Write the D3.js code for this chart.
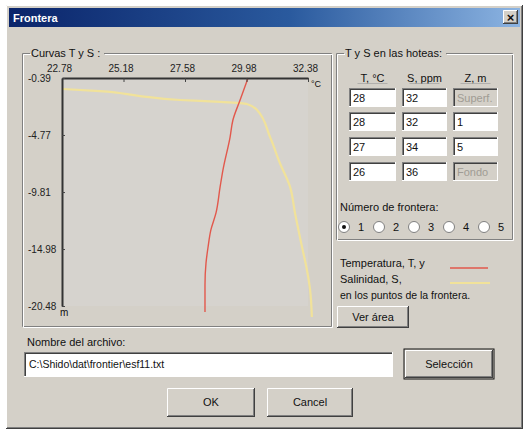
<!DOCTYPE html>
<html><head><meta charset="utf-8">
<script src="https://cdn.jsdelivr.net/npm/d3@7"></script>
<style>
body{margin:0;background:#fff}
svg{display:block;font-family:"Liberation Sans",Arial,sans-serif;font-size:11px}
</style>
</head><body>
<svg id="c" width="525" height="430"></svg>
<script>
// ---- data ----
const xTickValues = [22.78, 25.18, 27.58, 29.98, 32.38];
const xTickLabels = ["22.78", "25.18", "27.58", "29.98", "32.38"];
const yTickDepths = [0.39, 5.41, 10.44, 15.46, 20.48];
const yTickLabels = ["-0.39", "-4.77", "-9.81", "-14.98", "-20.48"];
const tempDepth  = [0.39, 2.33, 4.09, 5.59, 8.50, 9.99, 12.28, 13.78, 15.28, 16.69, 18.63, 21.01];
const tempValues = [30.04, 29.73, 29.45, 29.34, 29.06, 28.95, 28.79, 28.59, 28.48, 28.40, 28.36, 28.36];
const salDepth  = [1.36, 1.54, 1.98, 2.33, 2.50, 2.68, 3.21, 5.59, 7.88, 9.99, 12.28, 15.28, 17.31, 19.07, 21.45];
const salValues = [30.03, 31.08, 32.22, 33.36, 34.50, 35.26, 35.55, 35.92, 36.20, 36.49, 36.63, 36.83, 36.97, 37.06, 37.11];
const tableHeaders = ["T, °C", "S, ppm", "Z, m"];
const tableT = ["28", "28", "27", "26"];
const tableS = ["32", "32", "34", "36"];
const tableZ = ["Superf.", "1", "5", "Fondo"];
const radioLabels = ["1", "2", "3", "4", "5"];

const G = "#d4d0c8", DK = "#404040", MD = "#808080", WH = "#ffffff";
const svg = d3.select("#c");

// ---- helpers ----
function raised(g, x, y, w, h) {
  g.append("rect").attr("x", x).attr("y", y).attr("width", w).attr("height", h).attr("fill", G);
  const l = (x1, y1, x2, y2, c) => g.append("line").attr("x1", x1).attr("y1", y1).attr("x2", x2).attr("y2", y2).attr("stroke", c).attr("stroke-width", 1);
  l(x + .5, y + .5, x + w - .5, y + .5, WH); l(x + .5, y + .5, x + .5, y + h - .5, WH);
  l(x, y + h - .5, x + w, y + h - .5, DK); l(x + w - .5, y, x + w - .5, y + h, DK);
  l(x + 1, y + h - 1.5, x + w - 1, y + h - 1.5, MD); l(x + w - 1.5, y + 1, x + w - 1.5, y + h - 1, MD);
}
function sunken(g, x, y, w, h, fill) {
  g.append("rect").attr("x", x).attr("y", y).attr("width", w).attr("height", h).attr("fill", fill);
  const l = (x1, y1, x2, y2, c) => g.append("line").attr("x1", x1).attr("y1", y1).attr("x2", x2).attr("y2", y2).attr("stroke", c).attr("stroke-width", 1);
  l(x, y + .5, x + w, y + .5, MD); l(x + .5, y, x + .5, y + h, MD);
  l(x + 1, y + 1.5, x + w - 1, y + 1.5, DK); l(x + 1.5, y + 1, x + 1.5, y + h - 1, DK);
  l(x, y + h - .5, x + w, y + h - .5, WH); l(x + w - .5, y, x + w - .5, y + h, WH);
}
function groupBox(g, x, y, w, h, label, labelW) {
  [[MD, 0], [WH, 1]].forEach(([c, o]) => {
    g.append("path").attr("fill", "none").attr("stroke", c)
      .attr("d", `M${x + 8 + o},${y + .5 + o}H${x + .5 + o}V${y + h - .5 + o}H${x + w - .5 + o}V${y + .5 + o}H${x + 10 + labelW + o}`);
  });
  g.append("text").attr("x", x + 9).attr("y", y + 4).text(label).attr("fill", "#111");
}
function txt(x, y, t, opts = {}) {
  return svg.append("text").attr("x", x).attr("y", y).text(t)
    .attr("text-anchor", opts.anchor || "start").attr("fill", opts.fill || "#111")
    .attr("font-weight", opts.bold ? "bold" : null).attr("font-size", opts.size || null);
}

// ---- dialog frame ----
svg.append("rect").attr("width", 525).attr("height", 430).attr("fill", "#fff");
raised(svg, 6, 5, 517, 424);
const grad = svg.append("defs").append("linearGradient").attr("id", "tb");
grad.append("stop").attr("offset", 0).attr("stop-color", "#0a246a");
grad.append("stop").attr("offset", 0.55).attr("stop-color", "#2a5a9e");
grad.append("stop").attr("offset", 1).attr("stop-color", "#8cb4e2");
svg.append("rect").attr("x", 9).attr("y", 8).attr("width", 511).attr("height", 19).attr("fill", "url(#tb)");
txt(13, 22, "Frontera", { fill: "#fff", bold: true });
raised(svg, 503, 10, 15, 14);
txt(510.5, 21.5, "×", { anchor: "middle", bold: true, size: "13px" });

// ---- group boxes ----
groupBox(svg, 22, 53, 310, 274, "Curvas T y S :", 72);
groupBox(svg, 336, 53, 177, 187, "T y S en las hoteas:", 100);

// ---- chart ----
const x = d3.scaleLinear().domain([22.78, 32.38]).range([62, 308]);
const s = d3.scaleLinear().domain([30, 37]).range([62, 308]);
const y = d3.scaleLinear().domain([0.39, 20.48]).range([78, 306]);

const plot = svg.append("g");
plot.append("rect").attr("x", 63).attr("y", 79).attr("width", 245).attr("height", 227).attr("fill", "#d6d3ce");

const lineT = d3.line().x((d, i) => x(tempValues[i])).y(d => y(d)).curve(d3.curveMonotoneY);
const lineS = d3.line().x((d, i) => s(salValues[i])).y(d => y(d)).curve(d3.curveMonotoneY);
plot.append("path").attr("d", lineS(salDepth)).attr("fill", "none").attr("stroke", "#f1e29a").attr("stroke-width", 2.2);
plot.append("path").attr("d", lineT(tempDepth)).attr("fill", "none").attr("stroke", "#e2584c").attr("stroke-width", 1.4);

const xAxis = d3.axisTop(x).tickValues(xTickValues).tickFormat((d, i) => xTickLabels[i])
  .tickSizeInner(-4).tickSizeOuter(0).tickPadding(6);
const gx = svg.append("g").attr("transform", "translate(0,78)").call(xAxis);
gx.select(".domain").attr("stroke", "#333").attr("stroke-width", 2);
gx.selectAll(".tick line").attr("stroke", "#444");
gx.selectAll(".tick text").attr("x", -3).attr("font-size", "10px").attr("fill", "#222").attr("font-family", "Liberation Sans, Arial, sans-serif");

const yAxis = d3.axisLeft(y).tickValues(yTickDepths).tickFormat((d, i) => yTickLabels[i])
  .tickSizeInner(-3).tickSizeOuter(0).tickPadding(0);
const gy = svg.append("g").attr("transform", "translate(62,0)").call(yAxis);
gy.select(".domain").attr("stroke", "#333").attr("stroke-width", 2);
gy.selectAll(".tick line").attr("stroke", "#444");
gy.selectAll(".tick text").attr("x", -34).attr("text-anchor", "start").attr("font-size", "10px").attr("fill", "#222").attr("font-family", "Liberation Sans, Arial, sans-serif");

txt(311, 87, "°C", { size: "9px" });
txt(60, 316, "m", { size: "10px" });

// ---- table ----
const colX = [349, 402, 453], colW = [47, 45, 45];
const rowY = [88, 112, 137, 162];
tableHeaders.forEach((h, i) => {
  txt(colX[i] + colW[i] / 2, 82, h, { anchor: "middle" });
  svg.append("line").attr("x1", colX[i] + colW[i] / 2 - 15).attr("x2", colX[i] + colW[i] / 2 + 15)
    .attr("y1", 83.5).attr("y2", 83.5).attr("stroke", "#999").attr("stroke-width", 0.6);
});
[tableT, tableS, tableZ].forEach((col, ci) => {
  col.forEach((v, ri) => {
    const disabled = ci === 2 && (ri === 0 || ri === 3);
    sunken(svg, colX[ci], rowY[ri], colW[ci], 19, disabled ? G : WH);
    txt(colX[ci] + 4, rowY[ri] + 14, v, { fill: disabled ? "#a09c94" : "#111", size: "11px" });
  });
});

// ---- radios ----
txt(340, 211, "Número de frontera:");
radioLabels.forEach((r, i) => {
  const cx = 344 + i * 35, cy = 227;
  svg.append("circle").attr("cx", cx).attr("cy", cy).attr("r", 5.5).attr("fill", WH).attr("stroke", MD);
  if (i === 0) svg.append("circle").attr("cx", cx).attr("cy", cy).attr("r", 2).attr("fill", "#111");
  txt(cx + 14, cy + 4, r);
});

// ---- legend ----
txt(340, 267, "Temperatura, T, y");
svg.append("line").attr("x1", 450).attr("x2", 488).attr("y1", 268).attr("y2", 268).attr("stroke", "#e2584c").attr("stroke-width", 1.4);
txt(340, 283, "Salinidad, S,");
svg.append("line").attr("x1", 450).attr("x2", 490).attr("y1", 283).attr("y2", 283).attr("stroke", "#f1e29a").attr("stroke-width", 2.2);
txt(340, 299, "en los puntos de la frontera.", { size: "10.5px" });
raised(svg, 337, 306, 72, 22);
txt(373, 321, "Ver área", { anchor: "middle" });

// ---- file ----
txt(27, 346, "Nombre del archivo:");
sunken(svg, 24, 352, 369, 25, WH);
txt(29, 368, "C:\\Shido\\dat\\frontier\\esf11.txt", { size: "10.5px" });
svg.append("rect").attr("x", 404).attr("y", 349).attr("width", 90).attr("height", 30).attr("fill", "none").attr("stroke", "#111");
raised(svg, 405, 350, 88, 28);
txt(449, 368, "Selección", { anchor: "middle" });

raised(svg, 167, 388, 88, 29);
txt(211, 406, "OK", { anchor: "middle" });
raised(svg, 267, 388, 86, 29);
txt(310, 406, "Cancel", { anchor: "middle" });
</script>
</body></html>
